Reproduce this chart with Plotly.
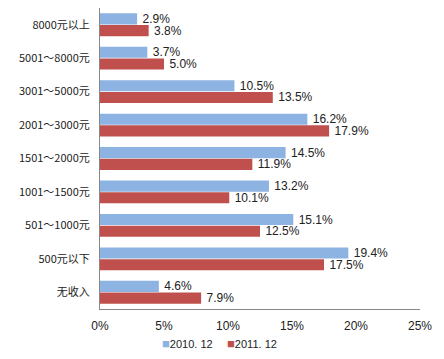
import plotly.graph_objects as go

categories = ["8000元以上", "5001～8000元", "3001～5000元", "2001～3000元", "1501～2000元",
              "1001～1500元", "501～1000元", "500元以下", "无收入"]
s2010 = [2.9, 3.7, 10.5, 16.2, 14.5, 13.2, 15.1, 19.4, 4.6]
s2011 = [3.8, 5.0, 13.5, 17.9, 11.9, 10.1, 12.5, 17.5, 7.9]
series_names = ["2010. 12", "2011. 12"]
colors = ["#8DB3E2", "#C0504D"]
tick_vals = [0, 5, 10, 15, 20, 25]
tick_text = ["0%", "5%", "10%", "15%", "20%", "25%"]

font_main = "Liberation Sans, Arial, Noto Sans CJK SC"

fig = go.Figure()
for name, vals, col in zip(series_names, [s2010, s2011], colors):
    fig.add_trace(go.Bar(
        y=categories, x=vals, orientation="h", name=name,
        marker=dict(color=col, line=dict(width=0)),
        text=[f"\u2009{v:.1f}%" for v in vals], textposition="outside",
        constraintext="none",
        textfont=dict(size=12, color="#222222", family=font_main), cliponaxis=False,
    ))

# legend drawn as annotations to get compact square swatches
fig.add_annotation(xref="paper", yref="paper", x=0.36, y=-0.113, xanchor="right", yanchor="middle",
                   showarrow=False, font=dict(size=11, family=font_main, color="#222222"),
                   text=f"<span style='color:{colors[0]};font-size:13px'>■</span>{series_names[0]}")
fig.add_annotation(xref="paper", yref="paper", x=0.39, y=-0.113, xanchor="left", yanchor="middle",
                   showarrow=False, font=dict(size=11, family=font_main, color="#222222"),
                   text=f"<span style='color:{colors[1]};font-size:13px'>■</span>{series_names[1]}")

fig.update_layout(
    width=444, height=359,
    margin=dict(l=100, r=24, t=8, b=50),
    barmode="group", bargap=0.30, bargroupgap=0.05,
    plot_bgcolor="white", paper_bgcolor="white",
    font=dict(family=font_main, size=11, color="#222222"),
    showlegend=False,
)
fig.update_xaxes(range=[0, 25], tickvals=tick_vals, ticktext=tick_text, automargin=False,
                 showgrid=False, zeroline=False, showline=True, linecolor="#888888",
                 linewidth=1, ticks="", tickfont=dict(size=12), ticklabelstandoff=6)
fig.update_yaxes(autorange="reversed", showgrid=False, showline=True, automargin=False,
                 linecolor="#888888", linewidth=1, ticks="",
                 tickfont=dict(size=11, family="Noto Sans CJK SC"), ticklabelstandoff=7)

fig.write_html("out.html", config={"displayModeBar": False},
               post_script="document.body.style.margin='0';")
